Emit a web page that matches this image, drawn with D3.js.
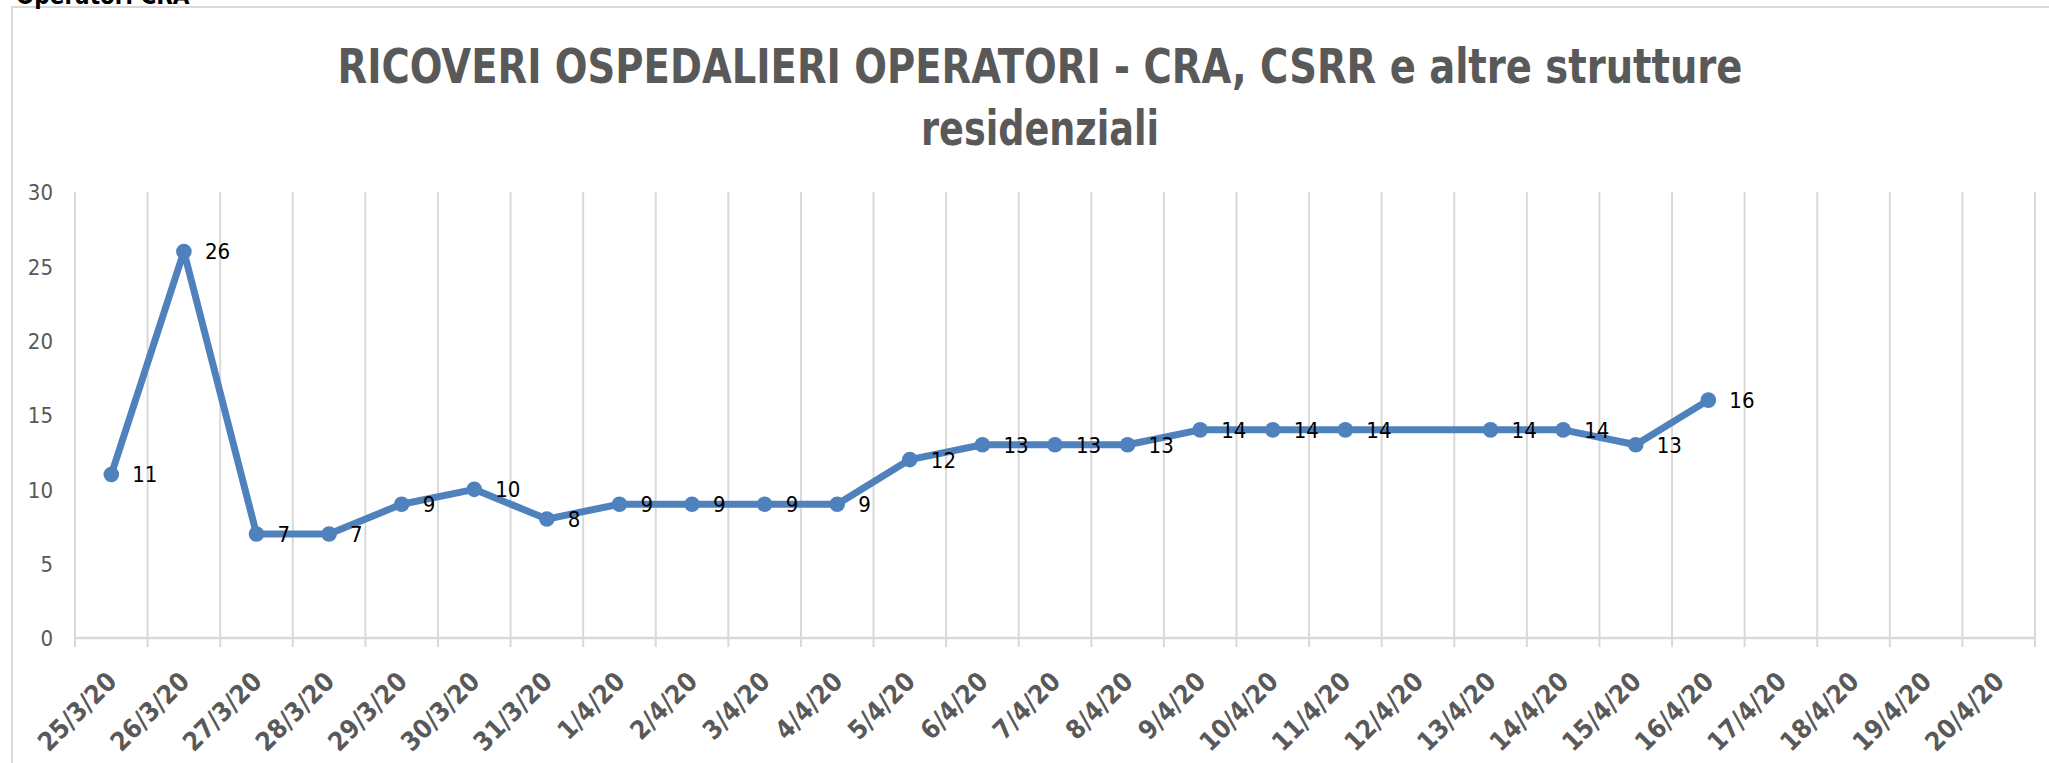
<!DOCTYPE html>
<html>
<head>
<meta charset="utf-8">
<script src="https://cdn.jsdelivr.net/npm/d3@7"></script>
<style>
  body { margin: 0; background: #fff; }
  svg { display: block; }
</style>
</head>
<body>
<div id="chart"></div>
<script>
// dati
const categories = [
    "25/3/20", "26/3/20", "27/3/20", "28/3/20", "29/3/20", "30/3/20", "31/3/20",
    "1/4/20", "2/4/20", "3/4/20", "4/4/20", "5/4/20", "6/4/20", "7/4/20", "8/4/20",
    "9/4/20", "10/4/20", "11/4/20", "12/4/20", "13/4/20", "14/4/20", "15/4/20",
    "16/4/20", "17/4/20", "18/4/20", "19/4/20", "20/4/20"
];
const ricoveri = [
    11, 26, 7, 7, 9, 10, 8,
    9, 9, 9, 9, 12, 13, 13, 13,
    14, 14, 14, null, 14, 14, 13,
    16, null, null, null, null
];
const yTicks = [0, 5, 10, 15, 20, 25, 30];
const titleLines = ["RICOVERI OSPEDALIERI OPERATORI - CRA, CSRR e altre strutture", "residenziali"];
const titleWidths = [1405, 238];

const W = 2049, H = 763;
const plot = { left: 75, right: 2035, top: 192, bottom: 638 };
const blue = "#4f81bd";
const grid = "#d9d9d9";
const textGray = "#595959";
const font = "'DejaVu Sans Condensed', 'DejaVu Sans', sans-serif";

const svg = d3.select("#chart").append("svg")
    .attr("width", W)
    .attr("height", H);

// cornice esterna del grafico
svg.append("rect")
    .attr("x", 12).attr("y", 7)
    .attr("width", W + 20).attr("height", H + 20)
    .attr("fill", "#fff")
    .attr("stroke", grid)
    .attr("stroke-width", 2);

// testo tagliato in alto a sinistra (come nell'originale)
svg.append("text")
    .attr("x", 16).attr("y", 4)
    .attr("font-family", font)
    .attr("font-weight", "bold")
    .attr("font-size", 24)
    .attr("fill", "#000")
    .text("Operatori CRA");

// titolo
svg.append("g")
    .selectAll("text")
    .data(titleLines)
    .enter().append("text")
    .attr("x", 1040)
    .attr("y", (d, i) => 83 + i * 62)
    .attr("text-anchor", "middle")
    .attr("textLength", (d, i) => titleWidths[i])
    .attr("lengthAdjust", "spacingAndGlyphs")
    .attr("font-family", font)
    .attr("font-weight", "bold")
    .attr("font-size", 48)
    .attr("fill", textGray)
    .text(d => d);

const x = d3.scaleBand()
    .domain(categories)
    .range([plot.left, plot.right])
    .padding(0);

const y = d3.scaleLinear()
    .domain([0, 30])
    .range([plot.bottom, plot.top]);

// griglia verticale ai confini delle categorie
const bounds = categories.map(c => x(c)).concat([x.range()[1]]);
svg.append("g")
    .selectAll("line")
    .data(bounds)
    .enter().append("line")
    .attr("x1", d => d).attr("x2", d => d)
    .attr("y1", y(30))
    .attr("y2", y(0) + 9)
    .attr("stroke", grid)
    .attr("stroke-width", 2);

// linea dello zero
svg.append("line")
    .attr("x1", plot.left).attr("x2", plot.right)
    .attr("y1", y(0)).attr("y2", y(0))
    .attr("stroke", grid)
    .attr("stroke-width", 2.5);

// asse y (solo etichette)
const yAxis = svg.append("g")
    .attr("transform", "translate(" + (plot.left - 22) + ",0)")
    .call(d3.axisLeft(y).tickValues(yTicks).tickSize(0).tickPadding(0));
yAxis.select(".domain").remove();
yAxis.selectAll("text")
    .attr("font-family", font)
    .attr("font-size", 22)
    .attr("fill", textGray)
    .attr("dy", "0.36em");

// asse x con etichette ruotate
const xAxis = svg.append("g")
    .attr("transform", "translate(0," + y(0) + ")")
    .call(d3.axisBottom(x).tickSize(0).tickSizeOuter(0));
xAxis.select(".domain").remove();
xAxis.selectAll("text")
    .attr("x", 0).attr("y", 0).attr("dy", 0)
    .attr("text-anchor", "end")
    .attr("transform", "translate(7,45) rotate(-45)")
    .attr("font-family", font)
    .attr("font-weight", "bold")
    .attr("font-size", 26)
    .attr("fill", textGray);

const points = categories
    .map((c, i) => ({ cat: c, value: ricoveri[i] }))
    .filter(d => d.value !== null);

const line = d3.line()
    .x(d => x(d.cat) + x.bandwidth() / 2)
    .y(d => y(d.value));

svg.append("path")
    .datum(points)
    .attr("d", line)
    .attr("fill", "none")
    .attr("stroke", blue)
    .attr("stroke-width", 7)
    .attr("stroke-linejoin", "round");

svg.append("g")
    .selectAll("circle")
    .data(points)
    .enter().append("circle")
    .attr("cx", d => x(d.cat) + x.bandwidth() / 2)
    .attr("cy", d => y(d.value))
    .attr("r", 7.8)
    .attr("fill", blue);

svg.append("g")
    .selectAll("text")
    .data(points)
    .enter().append("text")
    .attr("x", d => x(d.cat) + x.bandwidth() / 2 + 21)
    .attr("y", d => y(d.value) + 8)
    .attr("font-family", font)
    .attr("font-size", 22)
    .attr("fill", "#000")
    .text(d => d.value);
</script>
</body>
</html>
